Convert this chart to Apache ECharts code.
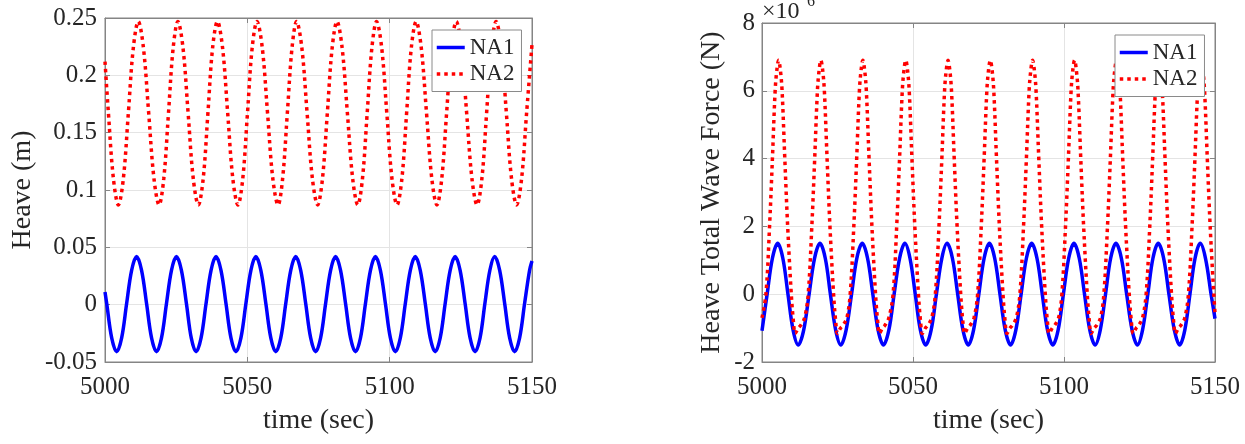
<!DOCTYPE html>
<html><head><meta charset="utf-8">
<script src="https://cdn.jsdelivr.net/npm/echarts@6/dist/echarts.min.js"></script>
<style>html,body{margin:0;padding:0;background:#fff}#c{width:1245px;height:444px}</style>
</head><body><div id="c"></div>
<script>
// ---- tick labels / axis ranges ----
const timeTicks = [5000, 5050, 5100, 5150];
const heaveTicks = [-0.05, 0, 0.05, 0.1, 0.15, 0.2, 0.25];
const forceTicks = [-2, 0, 2, 4, 6, 8];
const seriesNames = ['NA1', 'NA2'];

// ---- left panel: heave (m) vs time (sec) ----
const heaveNA1 = [
  [5000,0.011],[5000.6,0.001],[5002.35,-0.029],[5004.1,-0.041],
  [5005.85,-0.029],[5007.6,0.001],[5009.35,0.030],[5011.1,0.042],
  [5012.85,0.030],[5014.6,0.001],[5016.35,-0.029],[5018.1,-0.041],
  [5019.85,-0.029],[5021.6,0.001],[5023.35,0.030],[5025.1,0.042],
  [5026.85,0.030],[5028.6,0.001],[5030.3,-0.029],[5032.0,-0.041],
  [5033.75,-0.029],[5035.5,0.001],[5037.25,0.030],[5039.0,0.042],
  [5040.75,0.030],[5042.5,0.001],[5044.25,-0.029],[5046.0,-0.041],
  [5047.75,-0.029],[5049.5,0.001],[5051.25,0.030],[5053.0,0.042],
  [5054.75,0.030],[5056.5,0.001],[5058.25,-0.029],[5060.0,-0.041],
  [5061.75,-0.029],[5063.5,0.001],[5065.25,0.030],[5067.0,0.042],
  [5068.75,0.030],[5070.5,0.001],[5072.25,-0.029],[5074.0,-0.041],
  [5075.75,-0.029],[5077.5,0.001],[5079.25,0.030],[5081.0,0.042],
  [5082.75,0.030],[5084.5,0.001],[5086.25,-0.029],[5088.0,-0.041],
  [5089.75,-0.029],[5091.5,0.001],[5093.25,0.030],[5095.0,0.042],
  [5096.75,0.030],[5098.5,0.001],[5100.25,-0.029],[5102.0,-0.041],
  [5103.75,-0.029],[5105.5,0.001],[5107.25,0.030],[5109.0,0.042],
  [5110.75,0.030],[5112.5,0.001],[5114.25,-0.029],[5116.0,-0.041],
  [5117.75,-0.029],[5119.5,0.001],[5121.25,0.030],[5123.0,0.042],
  [5124.75,0.030],[5126.5,0.001],[5128.25,-0.029],[5130.0,-0.041],
  [5131.75,-0.029],[5133.45,0.001],[5135.2,0.030],[5136.9,0.042],
  [5138.65,0.030],[5140.4,0.001],[5142.15,-0.029],[5143.9,-0.041],
  [5145.65,-0.029],[5147.4,0.001],[5149.15,0.030],[5150,0.038]
];
const heaveNA2 = [
  [5000,0.212],[5001.2,0.167],[5002.95,0.110],[5004.7,0.087],
  [5006.45,0.110],[5008.2,0.167],[5009.95,0.224],[5011.7,0.247],
  [5013.5,0.224],[5015.35,0.167],[5017.2,0.110],[5019.0,0.087],
  [5020.65,0.110],[5022.3,0.167],[5023.95,0.224],[5025.6,0.247],
  [5027.4,0.224],[5029.2,0.167],[5031.0,0.110],[5032.8,0.087],
  [5034.5,0.110],[5036.15,0.167],[5037.8,0.224],[5039.5,0.247],
  [5041.3,0.224],[5043.1,0.167],[5044.9,0.110],[5046.7,0.087],
  [5048.4,0.110],[5050.05,0.167],[5051.7,0.224],[5053.4,0.247],
  [5055.25,0.224],[5057.1,0.167],[5058.95,0.110],[5060.8,0.087],
  [5062.4,0.110],[5064.05,0.167],[5065.7,0.224],[5067.3,0.247],
  [5069.15,0.224],[5071.0,0.167],[5072.85,0.110],[5074.7,0.087],
  [5076.4,0.110],[5078.1,0.167],[5079.8,0.224],[5081.5,0.247],
  [5083.3,0.224],[5085.15,0.167],[5087.0,0.110],[5088.8,0.087],
  [5090.45,0.110],[5092.1,0.167],[5093.75,0.224],[5095.4,0.247],
  [5097.2,0.224],[5099.0,0.167],[5100.8,0.110],[5102.6,0.087],
  [5104.3,0.110],[5105.95,0.167],[5107.6,0.224],[5109.3,0.247],
  [5111.1,0.224],[5112.95,0.167],[5114.8,0.110],[5116.6,0.087],
  [5118.3,0.110],[5120.0,0.167],[5121.7,0.224],[5123.4,0.247],
  [5125.2,0.224],[5127.05,0.167],[5128.9,0.110],[5130.7,0.087],
  [5132.4,0.110],[5134.05,0.167],[5135.7,0.224],[5137.4,0.247],
  [5139.2,0.224],[5141.0,0.167],[5142.8,0.110],[5144.6,0.087],
  [5146.35,0.110],[5148.1,0.167],[5150,0.227]
];

// ---- right panel: heave total wave force (x10^6 N) vs time (sec) ----
const forceNA1 = [
  [5000,-1.08],[5001.7,0],[5003.45,1.06],[5005.2,1.5],
  [5006.9,1.06],[5008.6,0],[5010.3,-1.06],[5012.0,-1.5],
  [5013.8,-1.06],[5015.6,0],[5017.4,1.06],[5019.2,1.5],
  [5020.95,1.06],[5022.65,0],[5024.4,-1.06],[5026.1,-1.5],
  [5027.85,-1.06],[5029.65,0],[5031.4,1.06],[5033.2,1.5],
  [5034.95,1.06],[5036.7,0],[5038.45,-1.06],[5040.2,-1.5],
  [5042.0,-1.06],[5043.75,0],[5045.55,1.06],[5047.3,1.5],
  [5049.0,1.06],[5050.75,0],[5052.45,-1.06],[5054.2,-1.5],
  [5056.0,-1.06],[5057.75,0],[5059.55,1.06],[5061.3,1.5],
  [5063.05,1.06],[5064.8,0],[5066.55,-1.06],[5068.3,-1.5],
  [5070.05,-1.06],[5071.8,0],[5073.55,1.06],[5075.3,1.5],
  [5077.05,1.06],[5078.8,0],[5080.55,-1.06],[5082.3,-1.5],
  [5084.05,-1.06],[5085.8,0],[5087.55,1.06],[5089.3,1.5],
  [5091.05,1.06],[5092.8,0],[5094.55,-1.06],[5096.3,-1.5],
  [5098.05,-1.06],[5099.8,0],[5101.55,1.06],[5103.3,1.5],
  [5105.05,1.06],[5106.8,0],[5108.55,-1.06],[5110.3,-1.5],
  [5112.0,-1.06],[5113.75,0],[5115.45,1.06],[5117.2,1.5],
  [5119.0,1.06],[5120.75,0],[5122.55,-1.06],[5124.3,-1.5],
  [5126.0,-1.06],[5127.75,0],[5129.45,1.06],[5131.2,1.5],
  [5133.0,1.06],[5134.75,0],[5136.55,-1.06],[5138.3,-1.5],
  [5140.0,-1.06],[5141.7,0],[5143.4,1.06],[5145.1,1.5],
  [5146.85,1.06],[5148.7,0],[5150,-0.72]
];
const forceNA2 = [
  [5000,-0.7],[5001.3,0],[5002.5,2.0],[5003.45,4.0],[5004.35,6.0],[5004.9,6.6],
  [5005.5,6.9],[5006.1,6.6],[5006.65,6.0],[5007.55,4.0],[5008.5,2.0],[5009.7,0],[5010.4,-0.8],[5011.0,-1.16],[5012.0,-1.0],[5012.8,-0.92],[5014.1,-0.7],[5015.3,0],[5016.5,2.0],[5017.45,4.0],[5018.35,6.0],[5018.9,6.6],
  [5019.5,6.9],[5020.1,6.6],[5020.65,6.0],[5021.55,4.0],[5022.5,2.0],[5023.7,0],[5024.4,-0.8],[5025.0,-1.16],[5026.0,-1.0],[5026.8,-0.92],[5028.1,-0.7],[5029.2,0],[5030.4,2.0],[5031.35,4.0],[5032.25,6.0],[5032.8,6.6],
  [5033.4,6.9],[5034.0,6.6],[5034.55,6.0],[5035.45,4.0],[5036.4,2.0],[5037.6,0],[5038.3,-0.8],[5038.9,-1.16],[5039.9,-1.0],[5040.7,-0.92],[5042.0,-0.7],[5043.4,0],[5044.6,2.0],[5045.55,4.0],[5046.45,6.0],[5047.0,6.6],
  [5047.6,6.9],[5048.2,6.6],[5048.75,6.0],[5049.65,4.0],[5050.6,2.0],[5051.8,0],[5052.5,-0.8],[5053.1,-1.16],[5054.1,-1.0],[5054.9,-0.92],[5056.2,-0.7],[5057.4,0],[5058.6,2.0],[5059.55,4.0],[5060.45,6.0],[5061.0,6.6],
  [5061.6,6.9],[5062.2,6.6],[5062.75,6.0],[5063.65,4.0],[5064.6,2.0],[5065.8,0],[5066.5,-0.8],[5067.1,-1.16],[5068.1,-1.0],[5068.9,-0.92],[5070.2,-0.7],[5071.4,0],[5072.6,2.0],[5073.55,4.0],[5074.45,6.0],[5075.0,6.6],
  [5075.6,6.9],[5076.2,6.6],[5076.75,6.0],[5077.65,4.0],[5078.6,2.0],[5079.8,0],[5080.5,-0.8],[5081.1,-1.16],[5082.1,-1.0],[5082.9,-0.92],[5084.2,-0.7],[5085.4,0],[5086.6,2.0],[5087.55,4.0],[5088.45,6.0],[5089.0,6.6],
  [5089.6,6.9],[5090.2,6.6],[5090.75,6.0],[5091.65,4.0],[5092.6,2.0],[5093.8,0],[5094.5,-0.8],[5095.1,-1.16],[5096.1,-1.0],[5096.9,-0.92],[5098.2,-0.7],[5099.3,0],[5100.5,2.0],[5101.45,4.0],[5102.35,6.0],[5102.9,6.6],
  [5103.5,6.9],[5104.1,6.6],[5104.65,6.0],[5105.55,4.0],[5106.5,2.0],[5107.7,0],[5108.4,-0.8],[5109.0,-1.16],[5110.0,-1.0],[5110.8,-0.92],[5112.1,-0.7],[5113.2,0],[5114.4,2.0],[5115.35,4.0],[5116.25,6.0],[5116.8,6.6],
  [5117.4,6.9],[5118.0,6.6],[5118.55,6.0],[5119.45,4.0],[5120.4,2.0],[5121.6,0],[5122.3,-0.8],[5122.9,-1.16],[5123.9,-1.0],[5124.7,-0.92],[5126.0,-0.7],[5127.2,0],[5128.4,2.0],[5129.35,4.0],[5130.25,6.0],[5130.8,6.6],
  [5131.4,6.9],[5132.0,6.6],[5132.55,6.0],[5133.45,4.0],[5134.4,2.0],[5135.6,0],[5136.3,-0.8],[5136.9,-1.16],[5137.9,-1.0],[5138.7,-0.92],[5140.0,-0.7],[5141.2,0],[5142.4,2.0],[5143.35,4.0],[5144.25,6.0],[5144.8,6.6],
  [5145.4,6.9],[5146.0,6.6],[5146.55,6.0],[5147.45,4.0],[5148.4,2.0],[5149.6,0],[5150,-0.55]
];

// ---- styling ----
const FONT = "'Liberation Serif', 'Times New Roman', serif";
const AXIS_COLOR = '#858585';
const TEXT_COLOR = '#262626';
const GRID_COLOR = '#e4e4e4';
const BLUE = '#0000ff';
const RED = '#ff0000';

function range(t) { return { min: t[0], max: t[t.length - 1], interval: t[1] - t[0] }; }

function mainX(gi, gap) {
  return Object.assign({
    type: 'value', gridIndex: gi, position: 'bottom',
    name: 'time (sec)', nameLocation: 'middle', nameGap: gap,
    nameTextStyle: { fontFamily: FONT, fontSize: 28, color: TEXT_COLOR },
    axisLine: { show: true, onZero: false, lineStyle: { color: AXIS_COLOR, width: 1 } },
    axisTick: { show: true, inside: true, length: 5, lineStyle: { color: AXIS_COLOR } },
    axisLabel: { fontFamily: FONT, fontSize: 25, color: TEXT_COLOR, margin: 13,
      formatter: function (v) { return String(Math.round(v)); } },
    splitLine: { show: true, lineStyle: { color: GRID_COLOR, width: 1 } }
  }, range(timeTicks));
}
function mirrorX(gi) {
  return Object.assign({
    type: 'value', gridIndex: gi, position: 'top',
    axisLine: { show: true, onZero: false, lineStyle: { color: AXIS_COLOR, width: 1 } },
    axisTick: { show: true, inside: true, length: 5, lineStyle: { color: AXIS_COLOR } },
    axisLabel: { show: false }, splitLine: { show: false }
  }, range(timeTicks));
}
function mainY(gi, ticks, name, gap, margin) {
  return Object.assign({
    type: 'value', gridIndex: gi, position: 'left',
    name: name, nameLocation: 'middle', nameGap: gap, nameRotate: 90,
    nameTextStyle: { fontFamily: FONT, fontSize: 28, color: TEXT_COLOR },
    axisLine: { show: true, onZero: false, lineStyle: { color: AXIS_COLOR, width: 1 } },
    axisTick: { show: true, inside: true, length: 5, lineStyle: { color: AXIS_COLOR } },
    axisLabel: { fontFamily: FONT, fontSize: 25, color: TEXT_COLOR, margin: margin },
    splitLine: { show: true, lineStyle: { color: GRID_COLOR, width: 1 } }
  }, range(ticks));
}
function mirrorY(gi, ticks) {
  return Object.assign({
    type: 'value', gridIndex: gi, position: 'right',
    axisLine: { show: true, onZero: false, lineStyle: { color: AXIS_COLOR, width: 1 } },
    axisTick: { show: true, inside: true, length: 5, lineStyle: { color: AXIS_COLOR } },
    axisLabel: { show: false }, splitLine: { show: false }
  }, range(ticks));
}
function legendAt(left, top) {
  return {
    orient: 'vertical', left: left, top: top, data: seriesNames,
    itemWidth: 28, itemHeight: 14, itemGap: 3.5,
    padding: [6, 7, 6, 3],
    backgroundColor: '#ffffff', borderColor: '#8a8a8a', borderWidth: 1, borderRadius: 0,
    textStyle: { fontFamily: FONT, fontSize: 23, color: TEXT_COLOR },
    itemStyle: { opacity: 0 },
    lineStyle: { width: 3.5 },
    selectedMode: false
  };
}
function solidSeries(name, data, xi, yi) {
  return { type: 'line', name: name, data: data, xAxisIndex: xi, yAxisIndex: yi,
    symbol: 'none', smooth: 0.35, animation: false,
    lineStyle: { color: BLUE, width: 3.5 }, itemStyle: { color: BLUE } };
}
function dottedSeries(name, data, xi, yi) {
  return { type: 'line', name: name, data: data, xAxisIndex: xi, yAxisIndex: yi,
    symbol: 'none', smooth: 0.35, animation: false,
    lineStyle: { color: RED, width: 3.5, type: [3.5, 4] }, itemStyle: { color: RED } };
}

const chart = echarts.init(document.getElementById('c'), null, { renderer: 'canvas' });
chart.setOption({
  backgroundColor: '#ffffff',
  animation: false,
  grid: [
    { left: 105, top: 18, width: 427, height: 344, show: true, borderColor: AXIS_COLOR, borderWidth: 1, backgroundColor: 'transparent', outerBoundsMode: 'none' },
    { left: 762, top: 23, width: 453, height: 339, show: true, borderColor: AXIS_COLOR, borderWidth: 1, backgroundColor: 'transparent', outerBoundsMode: 'none' }
  ],
  xAxis: [mainX(0, 45), mirrorX(0), mainX(1, 45), mirrorX(1)],
  yAxis: [
    mainY(0, heaveTicks, 'Heave (m)', 68, 8), mirrorY(0, heaveTicks),
    mainY(1, forceTicks, 'Heave Total Wave Force (N)', 36, 7), mirrorY(1, forceTicks)
  ],
  legend: [legendAt(432, 30), legendAt(1115, 35)],
  graphic: [
    { type: 'text', left: 762, top: 0, silent: true,
      style: { text: '×10', fontFamily: FONT, fontSize: 24, fill: TEXT_COLOR } },
    { type: 'text', left: 807, top: -6, silent: true,
      style: { text: '6', fontFamily: FONT, fontSize: 16, fill: TEXT_COLOR } }
  ],
  series: [
    solidSeries('NA1', heaveNA1, 0, 0),
    dottedSeries('NA2', heaveNA2, 0, 0),
    solidSeries('NA1', forceNA1, 2, 2),
    dottedSeries('NA2', forceNA2, 2, 2)
  ]
});
</script>
</body></html>
